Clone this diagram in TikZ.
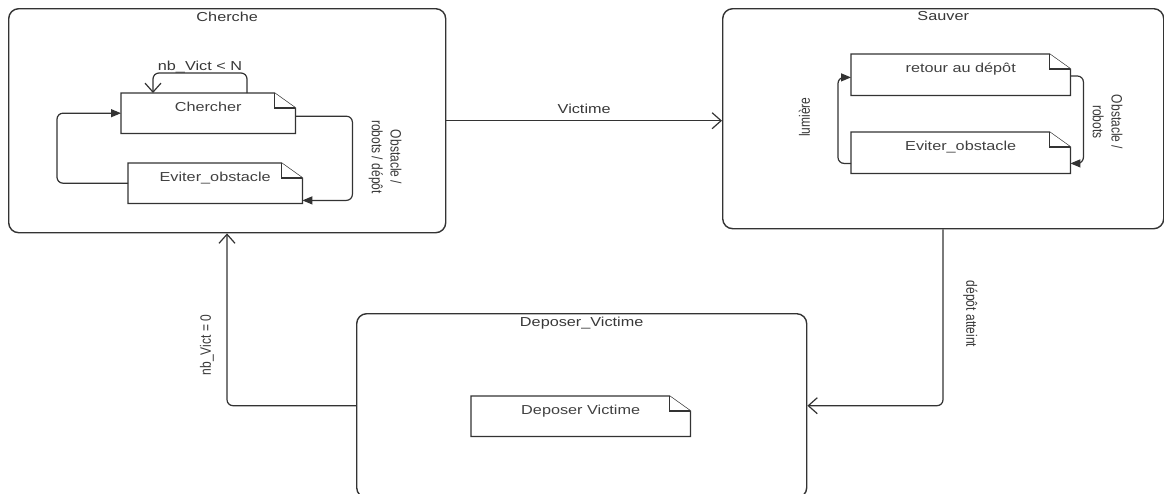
\documentclass[tikz,border=0pt]{standalone}
\usepackage{fontspec}
\setmainfont{Liberation Sans}
\usepackage{graphicx}
\usetikzlibrary{arrows.meta,calc}
\newcommand\hs[1]{\scalebox{1.25}[1]{#1}}
\newcommand\vs[1]{\scalebox{1}[1.25]{\begin{tabular}{@{}c@{}}#1\end{tabular}}}
\newcommand\notedraw[1]{%
  \draw[noteline] (#1.north west) -- ($(#1.north east)+(-21,0)$) -- ($(#1.north east)+(0,15)$) -- (#1.south east) -- (#1.south west) -- cycle;
  \draw[noteline] ($(#1.north east)+(-21,0)$) |- ($(#1.north east)+(0,15)$);}
\tikzset{
  bigbox/.style={draw=black!80, line width=1.4pt, rounded corners=10pt, inner sep=0pt, anchor=north west},
  notebox/.style={inner sep=0pt, anchor=north west, minimum height=40pt},
  noteline/.style={draw=black!80, line width=1.3pt, line join=miter, fill=white},
  title/.style={font=\fontsize{13}{15}\selectfont, text=black!78, inner sep=0pt, anchor=north, yshift=-3.5pt},
  notetext/.style={font=\fontsize{13}{15}\selectfont, text=black!75, inner sep=0pt, anchor=north, yshift=-8.5pt},
  lbl/.style={font=\fontsize{13}{15}\selectfont, text=black!78, inner sep=0pt, anchor=base},
  rlbl/.style={font=\fontsize{12}{15}\selectfont, text=black!78, inner sep=0pt},
  conn/.style={draw=black!80, line width=1.2pt, rounded corners=6pt},
  oarrow/.style={-{Straight Barb[length=9pt,width=16pt]}},
  farrow/.style={-{Triangle[length=10pt,width=8pt]}},
}
\begin{document}
\begin{tikzpicture}[x=1pt,y=-1pt]
\useasboundingbox (0,0) rectangle (1164,493);
\clip (0,0) rectangle (1164,493);
\fill[white] (0,0) rectangle (1164,493);

% big state boxes
\node[bigbox, minimum width=437pt, minimum height=224pt, label={[title]north:\hs{Cherche}}] (cherche) at (8,8) {};
\node[bigbox, minimum width=441pt, minimum height=220pt, label={[title]north:\hs{Sauver}}] (sauver) at (722,8) {};
\node[bigbox, minimum width=450pt, minimum height=184pt, label={[title]north:\hs{Deposer\_Victime}}] (depo) at (356,313) {};

% note boxes
\node[notebox, minimum width=174pt] (cher) at (121,93) {};
\node[notebox, minimum width=174pt] (evit1) at (128,163) {};
\node[notebox, minimum width=219pt, minimum height=41pt] (retour) at (851,54) {};
\node[notebox, minimum width=219pt, minimum height=41pt] (evit2) at (851,132) {};
\node[notebox, minimum width=219pt] (depv) at (471,396) {};
\notedraw{cher}
\notedraw{evit1}
\notedraw{retour}
\notedraw{evit2}
\notedraw{depv}
\node[notetext] (tcher) at (cher.north) {\hs{Chercher}};
\node[notetext] (tevit1) at (evit1.north) {\hs{Eviter\_obstacle}};
\node[notetext] (tretour) at (retour.north) {\hs{retour au dépôt}};
\node[notetext] (tevit2) at (evit2.north) {\hs{Eviter\_obstacle}};
\node[notetext] (tdepv) at (depv.north) {\hs{Deposer Victime}};

% Cherche internals
\draw[conn, oarrow] ($(cher.north west)+(126,0)$) -- ++(0,-20)
   -- node[lbl, yshift=3pt] (lloop) {\hs{nb\_Vict < N}} ++(-94,0) -- ++(0,20);
\draw[conn, farrow] (evit1.west) -- ++(-71,0) |- (cher.west);
\draw[conn, farrow] ($(cher.east)+(0,3)$) -- ++(57,0) |- ($(evit1.south east)+(0,-3)$);
\node[rlbl, rotate=-90] (lobs1) at (385,157) {\vs{Obstacle /\\robots / dépôt}};

% Victime
\draw[conn, oarrow] (cherche.east) -- node[lbl, yshift=7pt] (lvict) {\hs{Victime}} (cherche.east -| sauver.west);

% Sauver internals
\draw[conn, farrow] ($(evit2.south west)+(0,-10)$) -- ++(-13,0) |- ($(retour.south west)+(0,-18)$);
\node[rlbl, rotate=90] (llum) at (806,117) {\vs{lumière}};
\draw[conn, farrow] ($(retour.north east)+(0,22)$) -- ++(13,0) |- ($(evit2.south east)+(0,-10)$);
\node[rlbl, rotate=-90] (lobs2) at (1106,122) {\vs{Obstacle /\\robots}};

% depot atteint
\draw[conn, oarrow] ($(sauver.south west)+(221,0)$) |- (depo.east);
\node[rlbl, rotate=-90] (ldep) at (970,314) {\vs{dépôt atteint}};

% nb_Vict = 0
\draw[conn, oarrow] (depo.west) -| ($(cherche.south west)+(219,0)$);
\node[rlbl, rotate=90] (lzero) at (207,345) {\vs{nb\_Vict = 0}};
\end{tikzpicture}
\end{document}
